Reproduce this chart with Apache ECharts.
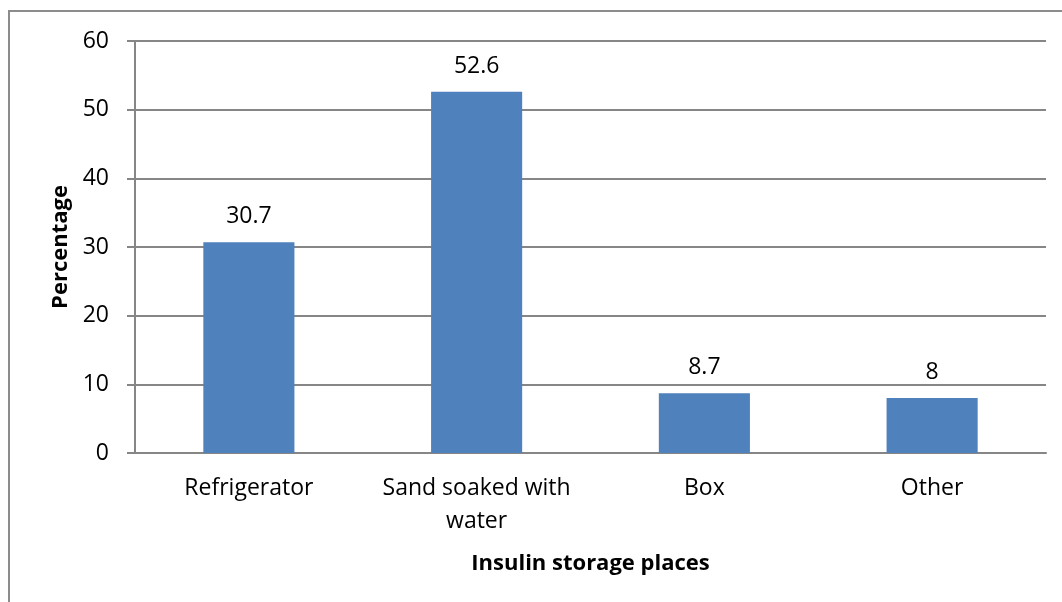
<!DOCTYPE html>
<html>
<head>
<meta charset="utf-8">
<script src="https://cdn.jsdelivr.net/npm/echarts@6/dist/echarts.min.js"></script>
<style>
  html, body { margin: 0; padding: 0; background: #fff; }
  #chart { width: 1062px; height: 602px; }
</style>
</head>
<body>
<div id="chart"></div>
<script>
const categories = ["Refrigerator", "Sand soaked with\nwater", "Box", "Other"];
const percentages = [30.7, 52.6, 8.7, 8];
const yTicks = { min: 0, max: 60, interval: 10 };

const font = "'Open Sans', 'Noto Sans', sans-serif";
const chart = echarts.init(document.getElementById("chart"));

chart.setOption({
  animation: false,
  graphic: [
    {
      type: "polyline",
      shape: { points: [[9, 640], [9, 11], [1070, 11]] },
      style: { stroke: "#8c8c8c", lineWidth: 2, fill: null }
    }
  ],
  grid: { left: 135, right: 16, top: 41, bottom: 149 },
  xAxis: {
    type: "category",
    data: categories,
    name: "Insulin storage places",
    nameLocation: "middle",
    nameGap: 100,
    nameTextStyle: { fontFamily: font, fontSize: 22, fontWeight: "bold", color: "#000" },
    axisLine: { lineStyle: { color: "#868686", width: 2 } },
    axisTick: { show: false },
    axisLabel: {
      interval: 0,
      hideOverlap: false,
      fontFamily: font,
      fontSize: 23,
      color: "#000",
      margin: 19,
      lineHeight: 33
    }
  },
  yAxis: {
    type: "value",
    min: yTicks.min,
    max: yTicks.max,
    interval: yTicks.interval,
    name: "Percentage",
    nameLocation: "middle",
    nameGap: 62,
    nameTextStyle: { fontFamily: font, fontSize: 22, fontWeight: "bold", color: "#000" },
    axisLine: { show: true, lineStyle: { color: "#868686", width: 2 } },
    axisTick: { show: true, length: 8, lineStyle: { color: "#868686", width: 2 } },
    axisLabel: { fontFamily: font, fontSize: 23, color: "#000", margin: 26 },
    splitLine: { lineStyle: { color: "#868686", width: 2 } }
  },
  series: [
    {
      type: "bar",
      data: percentages,
      barWidth: "40%",
      itemStyle: { color: "#4F81BD" },
      label: {
        show: true,
        position: "top",
        distance: 14,
        fontFamily: font,
        fontSize: 23,
        color: "#000"
      }
    }
  ]
});
</script>
</body>
</html>
